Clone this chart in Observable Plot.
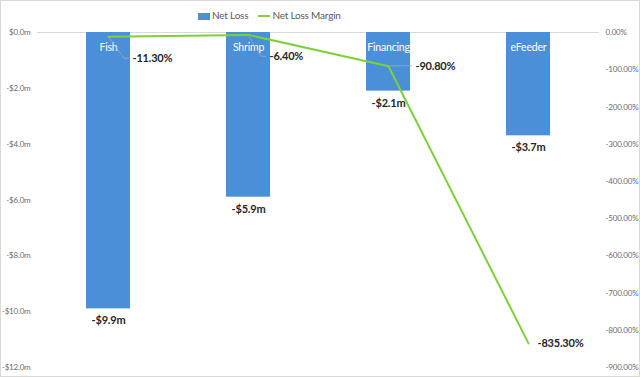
<!DOCTYPE html>
<html><head><meta charset="utf-8">
<script src="https://cdn.jsdelivr.net/npm/d3@7"></script>
<script src="https://cdn.jsdelivr.net/npm/@observablehq/plot@0.6"></script>
<style>
html,body{margin:0;padding:0;background:#fff;}
#wrap{position:relative;width:640px;height:377px;font-family:Lato,"Open Sans",sans-serif;}
#border{position:absolute;left:0;top:0;width:640px;height:377px;box-sizing:border-box;border:1px solid #d9d9d9;pointer-events:none;}
#legend{position:absolute;top:9px;left:198px;white-space:nowrap;font-size:10px;letter-spacing:-0.2px;color:#595959;line-height:12px;}
#legend span.sw{display:inline-block;vertical-align:middle;}
svg text{letter-spacing:-0.2px;}
</style></head>
<body><div id="wrap"><div id="legend"></div><div id="border"></div></div>
<script>
const categories = ["Fish", "Shrimp", "Financing", "eFeeder"];
const netLoss = [-9.9, -5.9, -2.1, -3.7];
const lossMargin = [-11.3, -6.4, -90.8, -835.3];
const leftTicks = [0, -2, -4, -6, -8, -10, -12];
const rightTicks = [0, -100, -200, -300, -400, -500, -600, -700, -800, -900];
const seriesNames = ["Net Loss", "Net Loss Margin"];

const blue = "#4A90D9", green = "#7ED03A", textDark = "#262626", axisGray = "#6b6b6b";
const ratio = 900 / 12; // right axis % per left-axis $m
const rows = categories.map((c, i) => ({cat: c, loss: netLoss[i], margin: lossMargin[i], my: lossMargin[i] / ratio}));
// label offsets (layout) for margin labels
const marginOffsets = [[24, 22], [21, 22], [27, 0], [9, 0]];

const fmtMoney = d => (d < 0 ? "-" : "") + "$" + Math.abs(d).toFixed(1) + "m";
const fmtPct = d => { const v = Math.round(d * ratio); return (v < 0 ? "-" : "") + Math.abs(v).toFixed(2) + "%"; };

const leaders = (index, scales, values, dims) => {
  const g = d3.create("svg:g");
  const bw = scales.x.bandwidth ? scales.x.bandwidth() : 0;
  rows.forEach((r, i) => {
    const [dx, dy] = marginOffsets[i];
    if (dx < 15) return;
    const px = scales.x(r.cat) + bw / 2, py = scales.y(r.my);
    const ex = px + dx - 3, ey = py + dy;
    const p = dy > 0 ? `M${px},${py}L${ex - 5},${ey}L${ex},${ey}` : `M${px},${py}L${ex},${ey}`;
    g.append("path").attr("d", p).attr("fill", "none").attr("stroke", "#a6a6a6").attr("stroke-width", 0.8);
  });
  return g.node();
};

const marks = [
  Plot.ruleY([0], {stroke: "#d9d9d9"}),
  Plot.barY(rows, {x: "cat", y: "loss", fill: blue}),
  Plot.axisY(leftTicks, {anchor: "left", tickSize: 0, tickPadding: 7, tickFormat: fmtMoney, fontSize: 8, fill: axisGray, label: null}),
  Plot.axisY(rightTicks.map(p => p / ratio), {anchor: "right", tickSize: 0, tickPadding: 6, tickFormat: fmtPct, fontSize: 8, fill: axisGray, label: null}),
  Plot.text(rows, {x: "cat", y: 0, text: "cat", dy: 15, fill: "white", fontSize: 10.5}),
  Plot.text(rows, {x: "cat", y: "loss", text: d => fmtMoney(d.loss), dy: 12, fill: textDark, fontSize: 11, fontWeight: "bold"}),
  leaders,
  Plot.line(rows, {x: "cat", y: "my", stroke: green, strokeWidth: 2}),
  ...rows.map((r, i) => Plot.text([r], {x: "cat", y: "my", text: d => d.margin.toFixed(2) + "%", textAnchor: "start", dx: marginOffsets[i][0], dy: marginOffsets[i][1], fill: textDark, fontSize: 11, fontWeight: "bold"}))
];

const chart = Plot.plot({
  width: 640, height: 377,
  marginTop: 32, marginBottom: 10, marginLeft: 37, marginRight: 41,
  style: {fontFamily: "Lato, 'Open Sans', sans-serif", background: "transparent"},
  x: {domain: categories, paddingInner: 0.687, paddingOuter: 0.3435, axis: null},
  y: {domain: [-12, 0], axis: null},
  marks
});
const wrap = document.getElementById("wrap");
wrap.insertBefore(chart, wrap.firstChild);

document.getElementById("legend").innerHTML =
  `<span class="sw" style="width:12px;height:7px;background:${blue};margin-right:2px"></span>${seriesNames[0]}` +
  `<span class="sw" style="width:12px;height:2px;background:${green};margin:0 2px 0 10px"></span>${seriesNames[1]}`;
</script></body></html>
